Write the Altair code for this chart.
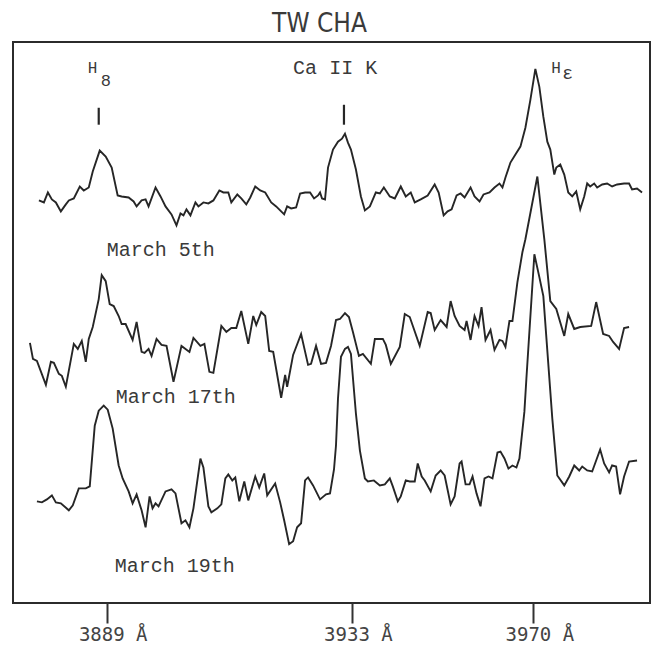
import altair as alt
import pandas as pd

# Densitometer tracings of TW Cha (scan position along the plate, tracing height)
mar5 = [(26,404),(31,402),(35,412),(39,405),(43,402),(48,393),(53,400),(56,404),(61,406),(67,418),(71,414),(76,417),(80,433),(87,454),(93,448),(99,437),(105,409),(109,408),(116,407),(121,403),(124,398),(129,404),(133,405),(136,398),(143,417),(148,408),(153,398),(159,390),(164,379),(168,391),(171,389),(174,395),(178,389),(183,402),(186,398),(191,402),(196,401),(201,404),(207,414),(211,412),(216,412),(219,402),(225,410),(229,406),(234,400),(238,407),(243,418),(248,414),(253,412),(259,402),(264,398),(268,394),(272,390),(275,398),(279,396),(284,397),(288,411),(293,412),(298,412),(302,406),(306,409),(308,412),(310,406),(313,405),(316,437),(321,455),(326,463),(330,466),(333,471),(336,462),(339,455),(344,435),(349,408),(353,394),(358,398),(364,412),(368,411),(372,417),(378,408),(383,406),(389,418),(394,408),(399,412),(403,402),(409,405),(416,409),(423,420),(427,412),(432,389),(436,393),(440,395),(445,409),(449,411),(453,407),(459,417),(463,408),(468,403),(472,410),(478,412),(483,417),(488,421),(491,417),(494,427),(499,442),(504,450),(509,458),(514,477),(519,505),(524,536),(528,518),(532,488),(536,463),(539,455),(543,430),(545,437),(549,440),(553,430),(557,412),(561,408),(565,413),(569,395),(573,408),(576,421),(579,418),(583,421),(586,417),(591,420),(596,421),(601,418),(606,420),(613,421),(618,421),(621,415),(626,416),(631,412)]

mar17 = [(17,261),(20,245),(24,243),(33,219),(38,242),(41,241),(46,230),(49,228),(53,217),(61,260),(65,255),(69,263),(73,242),(76,265),(80,277),(86,305),(89,329),(93,323),(97,300),(101,298),(106,288),(109,280),(113,280),(120,264),(124,282),(129,252),(132,251),(136,255),(139,248),(144,265),(149,259),(154,258),(161,222),(169,258),(177,252),(181,266),(188,258),(192,260),(197,232),(201,231),(209,278),(214,272),(219,276),(224,276),(229,293),(236,260),(241,288),(244,279),(249,292),(253,288),(257,253),(261,252),(269,206),(273,229),(275,217),(281,249),(289,270),(296,239),(299,240),(304,258),(309,240),(314,241),(319,258),(324,284),(328,285),(333,291),(337,287),(341,272),(347,248),(351,250),(359,240),(363,265),(371,265),(374,259),(379,240),(388,257),(393,290),(398,287),(408,258),(416,292),(419,291),(423,274),(429,284),(435,277),(439,303),(443,288),(448,278),(453,274),(455,283),(459,264),(463,288),(467,278),(470,297),(474,264),(479,274),(483,254),(488,264),(491,263),(494,257),(498,283),(501,283),(506,322),(511,352),(514,365),(526,428),(533,365),(539,303),(545,295),(553,268),(557,290),(563,275),(569,277),(580,278),(585,302),(592,270),(598,268),(602,262),(608,255),(613,276),(618,277)]

mar19 = [(24,102),(29,101),(34,104),(39,108),(43,101),(48,100),(56,93),(60,98),(66,115),(73,115),(77,117),(82,178),(86,193),(91,198),(95,194),(100,175),(106,138),(110,125),(116,112),(120,100),(124,109),(129,93),(133,76),(137,107),(140,95),(143,100),(146,97),(153,112),(159,114),(163,110),(169,80),(173,83),(177,76),(181,95),(188,145),(191,136),(196,97),(199,91),(205,95),(209,99),(213,125),(216,129),(220,123),(223,126),(227,102),(232,122),(236,103),(243,127),(247,116),(252,130),(255,108),(263,120),(268,101),(272,83),(277,59),(281,62),(285,76),(289,80),(293,123),(296,126),(301,118),(308,104),(314,109),(318,110),(322,134),(324,158),(326,205),(329,247),(333,255),(336,257),(339,250),(344,190),(348,153),(353,125),(356,122),(362,123),(368,118),(373,119),(378,125),(381,117),(386,102),(389,107),(394,123),(398,122),(403,122),(406,140),(410,127),(413,123),(419,112),(424,128),(429,133),(433,128),(439,99),(443,107),(448,140),(450,142),(454,119),(458,119),(461,127),(465,110),(469,97),(473,125),(477,127),(481,125),(486,151),(489,152),(493,145),(497,135),(501,138),(505,136),(508,145),(513,192),(515,225),(523,350),(528,327),(532,308),(541,185),(546,128),(553,118),(558,127),(563,138),(568,133),(571,137),(576,133),(581,132),(589,154),(593,140),(598,131),(601,138),(605,137),(609,109),(613,127),(618,142),(626,143)]

# wavelength calibration marks along the bottom
line_scan = [94, 340, 522]
line_label = ["3889 Å", "3933 Å", "3970 Å"]

# line identification markers (scan, bottom, top)
markers = [(86, 480, 497), (332, 480, 500)]

# annotations: text, scan, level, font size
notes = [
    ("March 5th", 94, 354, 20),
    ("March 17th", 103, 207, 20),
    ("March 19th", 102, 37, 20),
    ("Ca II K", 281, 537, 20),
    ("H", 75, 537, 16),
    ("8", 88, 524, 17),
    ("H", 540, 537, 16),
    ("ε", 551, 531, 18),
]

rows = []
for name, ser in [("March 5th", mar5), ("March 17th", mar17), ("March 19th", mar19)]:
    for i, (s, v) in enumerate(ser):
        rows.append({"series": name, "i": i, "scan": s, "level": v})
spec_df = pd.DataFrame(rows)
mark_df = pd.DataFrame(markers, columns=["scan", "level", "level2"])
note_df = pd.DataFrame(notes, columns=["text", "scan", "level", "size"])

expr = " : ".join(
    f"datum.value == {v} ? '{l}'" for v, l in zip(line_scan[:-1], line_label[:-1])
) + f" : '{line_label[-1]}'"

x_enc = alt.X(
    "scan:Q",
    scale=alt.Scale(domain=[0, 639], nice=False, zero=False),
    axis=alt.Axis(
        values=line_scan, labelExpr=expr, title=None, grid=False, domain=False,
        tickSize=20, tickWidth=2, tickColor="#333",
        labelFont="DejaVu Sans Mono", labelFontSize=19, labelColor="#444",
        labelPadding=2, labelOffset=6, labelFlush=False, labelOverlap=False,
    ),
)
y_scale = alt.Scale(domain=[0, 563], nice=False, zero=False)

lines = alt.Chart(spec_df).mark_line(color="#262626", strokeWidth=1.9).encode(
    x=x_enc,
    y=alt.Y("level:Q", scale=y_scale, axis=None),
    detail="series:N",
    order="i:Q",
)

ticks = alt.Chart(mark_df).mark_rule(color="#262626", strokeWidth=2.2).encode(
    x=x_enc,
    y=alt.Y("level:Q", scale=y_scale, axis=None),
    y2="level2:Q",
)

labels = alt.Chart(note_df).mark_text(
    font="Liberation Mono", align="left", baseline="middle", color="#3a3a3a"
).encode(
    x=x_enc,
    y=alt.Y("level:Q", scale=y_scale, axis=None),
    text="text:N",
    size=alt.Size("size:Q", scale=None, legend=None),
)

chart = alt.layer(lines, ticks, labels).properties(
    width=637,
    height=561,
    autosize=alt.AutoSizeParams(type="none"),
    padding={"left": 5, "top": 34, "right": 1, "bottom": 44},
    title=alt.TitleParams(
        "TW CHA",
        font="Liberation Sans Narrow, DejaVu Sans Condensed, DejaVu Sans",
        fontSize=26, fontWeight="normal", color="#3a3a3a",
        anchor="middle", offset=5, dx=-12,
    ),
).configure_view(stroke="#2b2b2b", strokeWidth=2)

chart.save("out.html", embed_options={"renderer": "svg", "actions": False})
